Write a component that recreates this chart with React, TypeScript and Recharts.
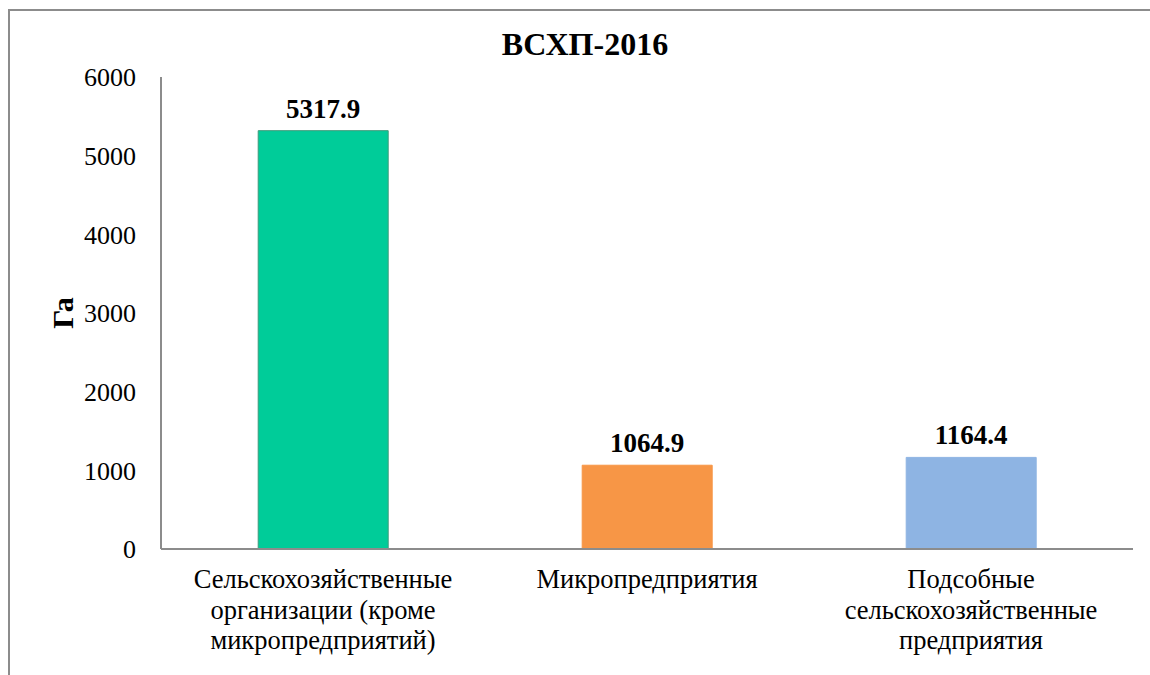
import { Bar, BarChart, Cell, LabelList, XAxis, YAxis } from "recharts"

const categories = [
  "Сельскохозяйственные организации (кроме микропредприятий)",
  "Микропредприятия",
  "Подсобные сельскохозяйственные предприятия",
]
const categoryLines = [
  ["Сельскохозяйственные", "организации (кроме", "микропредприятий)"],
  ["Микропредприятия"],
  ["Подсобные", "сельскохозяйственные", "предприятия"],
]
const values = [5317.9, 1064.9, 1164.4]
const colors = ["#00CC99", "#F79646", "#8EB4E3"]
const strokes = ["#3D9C7C", "#F79646", "#8EB4E3"]
const yTicks = [0, 1000, 2000, 3000, 4000, 5000, 6000]

const data = categories.map((name, i) => ({ name, total: values[i], idx: i }))

const font = '"Liberation Serif", "Times New Roman", serif'

function CategoryTick(props: any) {
  const { x, y, index } = props
  const lines = categoryLines[index] || []
  return (
    <g transform={`translate(${x},${y})`}>
      {lines.map((line, i) => (
        <text
          key={i}
          x={0}
          y={31 + i * 30.5}
          textAnchor="middle"
          fill="#000"
          fontSize={26.5}
          fontFamily={font}
        >
          {line}
        </text>
      ))}
    </g>
  )
}

export default function App() {
  return (
    <div
      style={{
        position: "fixed",
        left: 8,
        top: 9,
        width: 1160,
        height: 680,
        borderLeft: "2px solid #8c8c8c",
        borderTop: "2px solid #8c8c8c",
        fontFamily: font,
        background: "#fff",
      }}
    >
      <div
        style={{
          position: "absolute",
          left: 0,
          width: 1150,
          top: 15,
          textAlign: "center",
          fontWeight: "bold",
          fontSize: 32,
          color: "#000",
        }}
      >
        ВСХП-2016
      </div>
      <BarChart
        width={1142}
        height={665}
        data={data}
        margin={{ top: 66, right: 19, bottom: 17, left: 0 }}
        barCategoryGap="30%"
      >
        <XAxis
          dataKey="name"
          stroke="#8c8c8c"
          strokeWidth={2}
          tickLine={false}
          tick={<CategoryTick />}
          height={110}
          interval={0}
        />
        <YAxis
          width={151}
          domain={[0, 6000]}
          ticks={yTicks}
          stroke="#8c8c8c"
          strokeWidth={2}
          tickLine={false}
          tickMargin={19}
          tick={{ fill: "#000", fontSize: 26, fontFamily: font }}
          label={{
            value: "Га",
            angle: -90,
            position: "insideLeft",
            offset: 52,
            style: { fontWeight: "bold", fontSize: 30, fill: "#000", fontFamily: font, textAnchor: "middle" },
          }}
        />
        <Bar dataKey="total" isAnimationActive={false}>
          {data.map((d) => (
            <Cell key={d.idx} fill={colors[d.idx]} stroke={strokes[d.idx]} strokeWidth={1} />
          ))}
          <LabelList
            dataKey="total"
            position="top"
            offset={13}
            formatter={(v: any) => Number(v).toFixed(1)}
            style={{ fontWeight: "bold", fontSize: 27, fill: "#000", fontFamily: font }}
          />
        </Bar>
      </BarChart>
    </div>
  )
}
